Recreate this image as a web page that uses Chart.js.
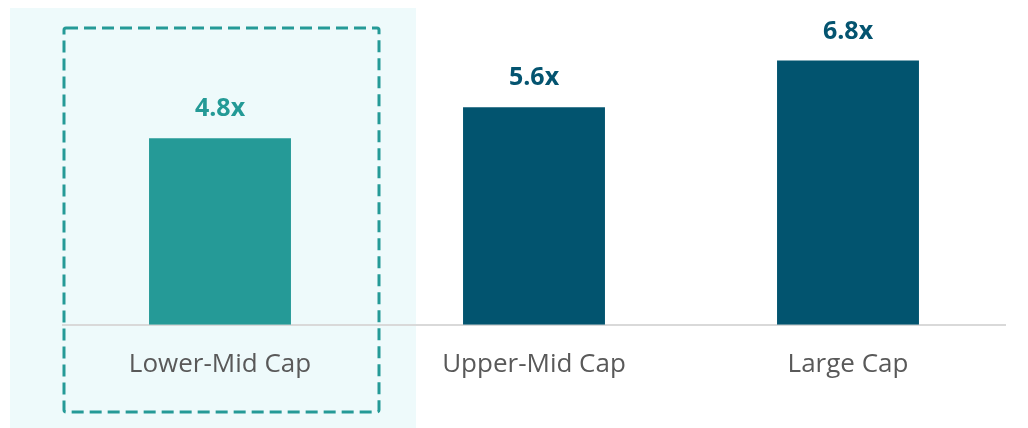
<!DOCTYPE html>
<html>
<head>
<meta charset="utf-8">
<script src="https://cdn.jsdelivr.net/npm/chart.js@4.4.1/dist/chart.umd.min.js"></script>
<style>
  html, body { margin: 0; padding: 0; background: #ffffff; }
  #wrap { width: 1028px; height: 428px; }
</style>
</head>
<body>
<div id="wrap"><canvas id="chart" width="1028" height="428"></canvas></div>
<script>
// EV/EBITDA multiples by company size
const categories = ["Lower-Mid Cap", "Upper-Mid Cap", "Large Cap"];
const multiples = [4.8, 5.6, 6.8];
const barColors = ["#259a97", "#02546f", "#02546f"];
const labelColors = ["#249a96", "#045470", "#045470"];

const FONT = "'Open Sans', 'Noto Sans', sans-serif";

// light panel + dashed outline around the highlighted (first) category
const highlightPlugin = {
  id: "highlight",
  beforeDraw(chart) {
    const ctx = chart.ctx;
    const cx = chart.scales.x.getPixelForValue(0);
    ctx.save();
    ctx.fillStyle = "#eefafb";
    ctx.fillRect(cx - 210, 8, 406, 420);
    ctx.restore();
  },
  afterDraw(chart) {
    const ctx = chart.ctx;
    const cx = chart.scales.x.getPixelForValue(0);
    ctx.save();
    ctx.strokeStyle = "#259a97";
    ctx.lineWidth = 3;
    ctx.setLineDash([12, 6]);
    ctx.beginPath();
    ctx.roundRect(cx - 156, 28, 315, 384, 2);
    ctx.stroke();
    ctx.restore();
  }
};

// value labels ("4.8x") above each bar
const valueLabels = {
  id: "valueLabels",
  afterDatasetsDraw(chart) {
    const ctx = chart.ctx;
    const meta = chart.getDatasetMeta(0);
    ctx.save();
    ctx.font = "bold 25px " + FONT;
    ctx.textAlign = "center";
    ctx.textBaseline = "middle";
    meta.data.forEach((bar, i) => {
      ctx.fillStyle = labelColors[i];
      ctx.fillText(multiples[i].toFixed(1) + "x", bar.x, bar.y - 29);
    });
    ctx.restore();
  }
};

new Chart(document.getElementById("chart"), {
  type: "bar",
  data: {
    labels: categories,
    datasets: [{
      data: multiples,
      backgroundColor: barColors,
      borderWidth: 0,
      barPercentage: 0.452,
      categoryPercentage: 1
    }]
  },
  options: {
    responsive: false,
    animation: false,
    layout: { padding: { left: 63, right: 23, top: 14, bottom: 32 } },
    plugins: { legend: { display: false }, tooltip: { enabled: false } },
    scales: {
      x: {
        grid: { display: false },
        border: { display: true, color: "#d9d9d9", width: 2 },
        ticks: {
          color: "#595959",
          font: { family: FONT, size: 26 },
          padding: 16
        }
      },
      y: {
        display: false,
        min: 0,
        max: 8
      }
    }
  },
  plugins: [highlightPlugin, valueLabels]
});
</script>
</body>
</html>
